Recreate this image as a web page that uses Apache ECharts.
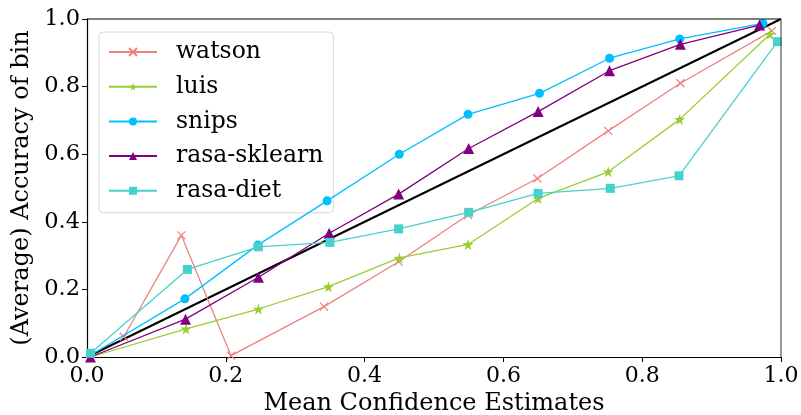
<!DOCTYPE html>
<html lang="en">
<head>
    <meta charset="utf-8">
    <title>Calibration</title>
    <style>
        body { margin: 0; background: #fff; }
        #id-main-area { width: 801px; height: 415px; }
    </style>
</head>
<body>
    <div id="id-main-area"></div>
    <script src="https://cdn.jsdelivr.net/npm/echarts@6/dist/echarts.min.js"></script>
    <script>
        var names = ['watson', 'luis', 'snips', 'rasa-sklearn', 'rasa-diet']
        var colors = ['#F08080', '#9ACD32', '#00BFFF', '#800080', '#48D1CC']
        var symbols = [
            'path://M0,0L10,10M10,0L0,10',
            'path://M5,0L6.2,3.6L10,3.6L6.9,5.9L8.1,9.5L5,7.3L1.9,9.5L3.1,5.9L0,3.6L3.8,3.6Z',
            'circle',
            'triangle',
            'rect',
        ]

        var watsonX = [0.053, 0.136, 0.2075, 0.3415, 0.449, 0.549, 0.649, 0.751, 0.855, 0.987]
        var watsonY = [0.06, 0.36, 0.004, 0.149, 0.282, 0.42, 0.528, 0.669, 0.81, 0.965]
        var luisX = [0.005, 0.1427, 0.247, 0.348, 0.45, 0.549, 0.65, 0.751, 0.854, 0.984]
        var luisY = [0.0, 0.083, 0.142, 0.208, 0.293, 0.333, 0.469, 0.548, 0.703, 0.955]
        var snipsX = [0.005, 0.141, 0.246, 0.346, 0.45, 0.549, 0.652, 0.753, 0.854, 0.974]
        var snipsY = [0.005, 0.172, 0.331, 0.462, 0.60, 0.718, 0.78, 0.884, 0.941, 0.987]
        var sklearnX = [0.005, 0.142, 0.247, 0.349, 0.449, 0.55, 0.65, 0.753, 0.855, 0.969]
        var sklearnY = [0.0, 0.112, 0.236, 0.366, 0.482, 0.617, 0.726, 0.847, 0.925, 0.982]
        var dietX = [0.005, 0.1446, 0.247, 0.35, 0.449, 0.55, 0.65, 0.754, 0.853, 0.995]
        var dietY = [0.011, 0.259, 0.326, 0.339, 0.379, 0.428, 0.484, 0.499, 0.536, 0.933]
        var diagonal = [[0, 0], [1, 1]]

        var zip = (xs, ys) => {
            var l = []
            for (var i = 0; i < xs.length; i++) {
                l.push([xs[i], ys[i]])
            }
            return l
        }

        var font = 'DejaVu Serif'

        var showChart = () => {
            var allData = [
                zip(watsonX, watsonY),
                zip(luisX, luisY),
                zip(snipsX, snipsY),
                zip(sklearnX, sklearnY),
                zip(dietX, dietY),
            ]
            var sizes = [8, 11, 9, 11, 9]
            var series = []
            for (var i = 0; i < names.length; i++) {
                var isCross = i == 0
                series.push({
                    name: names[i],
                    type: 'line',
                    data: allData[i],
                    symbol: symbols[i],
                    symbolSize: sizes[i],
                    showAllSymbol: true,
                    lineStyle: { color: colors[i], width: 1.3 },
                    itemStyle: isCross
                        ? { color: 'transparent', borderColor: colors[i], borderWidth: 1.2 }
                        : { color: colors[i], borderWidth: 0 },
                    emphasis: { disabled: true },
                    z: 3 + i,
                })
            }
            series.push({
                name: 'diag',
                type: 'line',
                data: diagonal,
                symbol: 'none',
                lineStyle: { color: '#000', width: 2 },
                z: 2,
            })

            var element = document.querySelector('#id-main-area')
            var myChart = echarts.init(element)
            var option = {
                animation: false,
                grid: { left: 87, right: 20, top: 19, bottom: 58, containLabel: false, outerBoundsMode: 'none' },
                legend: {
                    data: names,
                    orient: 'vertical',
                    left: 99,
                    top: 32,
                    padding: [8, 10, 10, 9],
                    itemWidth: 48,
                    itemHeight: 10,
                    itemGap: 10.7,
                    backgroundColor: 'rgba(255,255,255,0.85)',
                    borderColor: '#d8d8d8',
                    borderWidth: 1,
                    borderRadius: 4,
                    textStyle: { fontFamily: font, fontSize: 23.5, color: '#000', padding: [0, 0, 0, 14], lineHeight: 24 },
                },
                xAxis: {
                    type: 'value',
                    min: 0,
                    max: 1,
                    interval: 0.2,
                    name: 'Mean Confidence Estimates',
                    nameLocation: 'middle',
                    nameGap: 33,
                    nameTextStyle: { fontFamily: font, fontSize: 24, color: '#000' },
                    axisLine: { lineStyle: { color: '#000', width: 1.2 } },
                    axisTick: { length: 5, lineStyle: { color: '#000' } },
                    axisLabel: {
                        fontFamily: font, fontSize: 22, color: '#000', margin: 8,
                        formatter: (v) => v.toFixed(1),
                    },
                    splitLine: { show: false },
                },
                yAxis: {
                    type: 'value',
                    min: 0,
                    max: 1,
                    interval: 0.2,
                    name: '(Average) Accuracy of bin',
                    nameLocation: 'middle',
                    nameGap: 48,
                    nameTextStyle: { fontFamily: font, fontSize: 24, color: '#000' },
                    axisLine: { lineStyle: { color: '#000', width: 1.2 } },
                    axisTick: { length: 5, lineStyle: { color: '#000' } },
                    axisLabel: {
                        fontFamily: font, fontSize: 22.5, color: '#000', margin: 7,
                        formatter: (v) => v.toFixed(1),
                    },
                    splitLine: { show: false },
                },
                series: series,
            }
            myChart.setOption(option, true)
            // top and right frame lines
            var p0 = myChart.convertToPixel('grid', [0, 1])
            var p1 = myChart.convertToPixel('grid', [1, 0])
            myChart.setOption({
                graphic: [
                    { type: 'line', shape: { x1: p0[0], y1: p0[1], x2: p1[0], y2: p0[1] }, style: { stroke: '#000', lineWidth: 1.2 }, z: 10 },
                    { type: 'line', shape: { x1: p1[0], y1: p0[1], x2: p1[0], y2: p1[1] }, style: { stroke: '#555', lineWidth: 1.2 }, z: 10 },
                ]
            })
        }

        var __main = () => {
            showChart()
        }

        __main()
    </script>
</body>
</html>
